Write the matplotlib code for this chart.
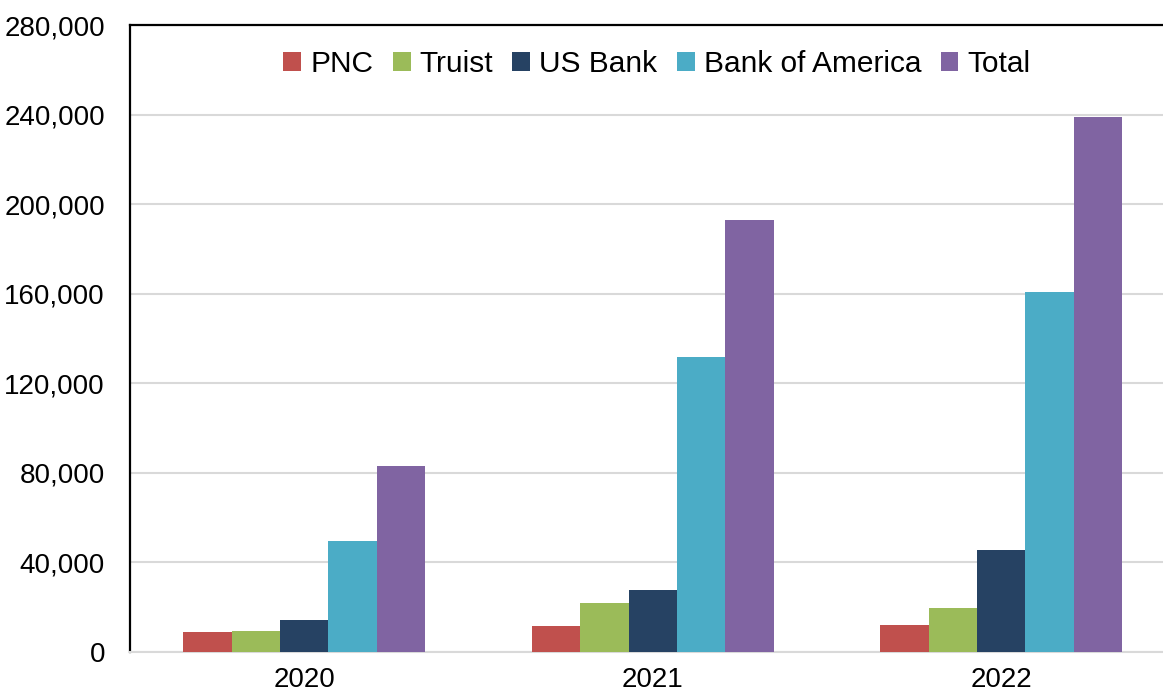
import matplotlib.pyplot as plt
import numpy as np
from matplotlib.patches import Patch
from matplotlib.ticker import FuncFormatter

plt.rcParams['font.family'] = ['Liberation Sans', 'DejaVu Sans']

# Data
years = ['2020', '2021', '2022']
banks = ['PNC', 'Truist', 'US Bank', 'Bank of America', 'Total']
pnc = [8800, 11400, 12100]
truist = [9400, 22100, 19700]
us_bank = [14500, 27900, 45500]
bofa = [49700, 131900, 160700]
total = [83000, 192800, 238700]
colors = ['#C0504D', '#9BBB59', '#264263', '#4BACC6', '#8064A2']

series = [pnc, truist, us_bank, bofa, total]

fig = plt.figure(figsize=(11.63, 6.96), dpi=100)
# axes right edge runs past the image, as in the original
ax = fig.add_axes([130 / 1163, 44 / 696, 1045.5 / 1163, 627 / 696])

x = np.arange(len(years))
bar_w = 0.139
for i, (vals, c) in enumerate(zip(series, colors)):
    ax.bar(x + (i - 2) * bar_w, vals, width=bar_w, color=c, zorder=3)

ax.set_xlim(-0.5, 2.5)
ax.set_ylim(0, 280000)
ax.set_yticks(np.arange(0, 280001, 40000))
ax.yaxis.set_major_formatter(FuncFormatter(lambda v, p: f'{int(v):,}'))
ax.set_xticks(x)
ax.set_xticklabels(years)

ax.grid(axis='y', color='#d9d9d9', linewidth=1.5, zorder=0)
ax.tick_params(axis='y', length=0, pad=18, labelsize=20)
ax.tick_params(axis='x', length=0, pad=11, labelsize=20)

ax.spines['right'].set_visible(False)
ax.spines['left'].set_linewidth(1.6)
ax.spines['top'].set_linewidth(1.6)
ax.spines['bottom'].set_color('#d9d9d9')
ax.spines['bottom'].set_linewidth(1.5)

handles = [Patch(facecolor=c, label=b) for b, c in zip(banks, colors)]
leg = ax.legend(handles=handles, loc='upper center', bbox_to_anchor=(0.504, 1.003),
                ncol=5, frameon=False, fontsize=21.5, handlelength=0.6, handleheight=0.6,
                handletextpad=0.3, columnspacing=0.65)

plt.savefig('out.png', dpi=100)
